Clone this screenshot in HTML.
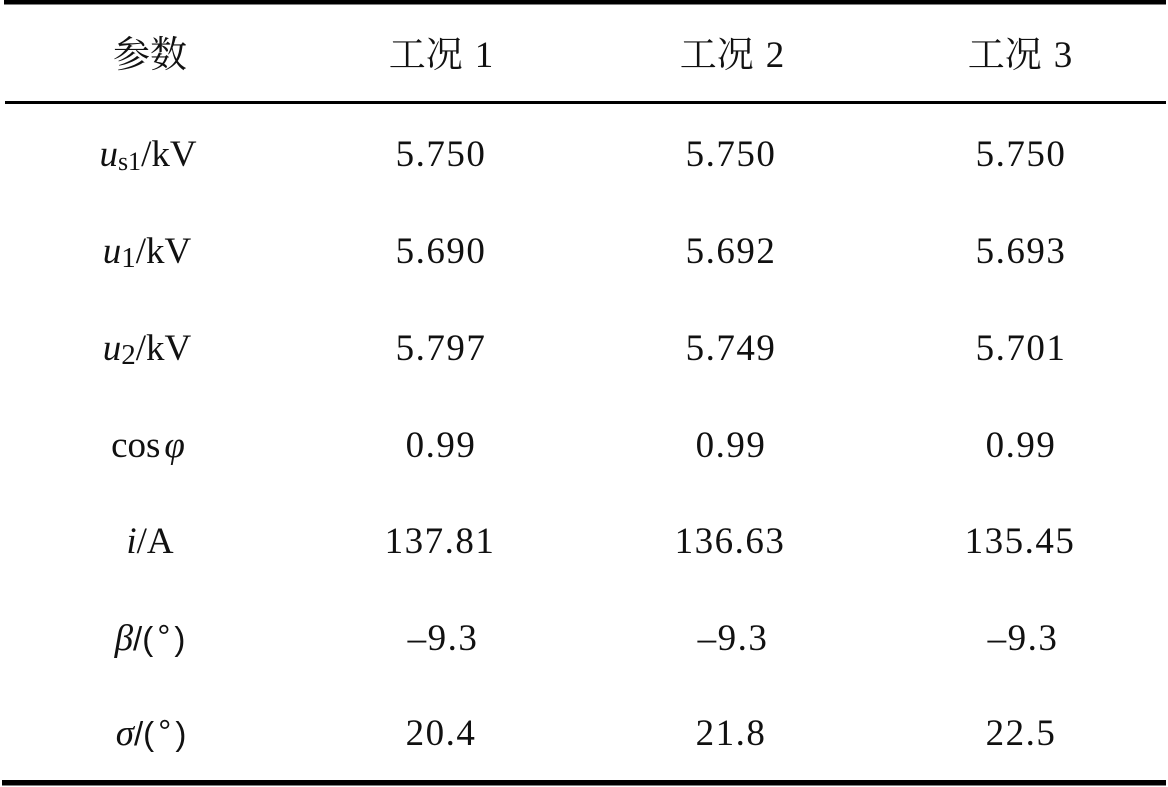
<!DOCTYPE html>
<html>
<head>
<meta charset="utf-8">
<style>
  html, body { margin:0; padding:0; background:#fff; }
  body { width:1168px; height:787px; overflow:hidden; }
  svg { display:block; }
  text { font-family: "Liberation Serif", "Noto Serif CJK SC", serif; font-size:37px; fill:#111; }
  .num { letter-spacing:1.5px; }
  .it { font-style:italic; }
  .sans { font-family: "Liberation Sans", sans-serif; font-size:33px; }
</style>
</head>
<body>
<svg width="1168" height="787" viewBox="0 0 1168 787" xmlns="http://www.w3.org/2000/svg">
  <rect x="4" y="0" width="1162" height="4.5" fill="#000"/>
  <rect x="5" y="101" width="1161" height="3" fill="#000"/>
  <rect x="2" y="780" width="1164" height="5.5" fill="#000"/>

  <!-- header -->
  <text x="150" y="67" text-anchor="middle">参数</text>
  <text x="441" y="67" text-anchor="middle">工况<tspan dx="12">1</tspan></text>
  <text x="732" y="67" text-anchor="middle">工况<tspan dx="12">2</tspan></text>
  <text x="1020" y="67" text-anchor="middle">工况<tspan dx="12">3</tspan></text>

  <!-- row labels -->
  <text x="148" y="166" text-anchor="middle"><tspan class="it">u</tspan><tspan font-size="26" dy="4">s1</tspan><tspan dy="-4">/kV</tspan></text>
  <text x="147" y="263" text-anchor="middle"><tspan class="it">u</tspan><tspan font-size="29" dy="4">1</tspan><tspan dy="-4">/kV</tspan></text>
  <text x="147" y="360" text-anchor="middle"><tspan class="it">u</tspan><tspan font-size="29" dy="4">2</tspan><tspan dy="-4">/kV</tspan></text>
  <text x="148" y="457" text-anchor="middle">cos<tspan class="it" dx="4">φ</tspan></text>
  <text x="150" y="553" text-anchor="middle"><tspan class="it">i</tspan>/A</text>
  <text x="150" y="650" text-anchor="middle"><tspan class="it">β</tspan><tspan class="sans">/(</tspan><tspan class="sans" dx="4" dy="-2" font-size="28">°</tspan><tspan class="sans" dx="4" dy="2">)</tspan></text>
  <text x="151" y="745" text-anchor="middle"><tspan class="it">σ</tspan><tspan class="sans">/(</tspan><tspan class="sans" dx="4" dy="-2" font-size="28">°</tspan><tspan class="sans" dx="4" dy="2">)</tspan></text>

  <g>
    <text class="num" x="441" y="166" text-anchor="middle">5.750</text>
    <text class="num" x="441" y="263" text-anchor="middle">5.690</text>
    <text class="num" x="441" y="360" text-anchor="middle">5.797</text>
    <text class="num" x="441" y="457" text-anchor="middle">0.99</text>
    <text class="num" x="440" y="553" text-anchor="middle">137.81</text>
    <text class="num" x="443" y="650" text-anchor="middle">–9.3</text>
    <text class="num" x="441" y="745" text-anchor="middle">20.4</text>

    <text class="num" x="731" y="166" text-anchor="middle">5.750</text>
    <text class="num" x="731" y="263" text-anchor="middle">5.692</text>
    <text class="num" x="731" y="360" text-anchor="middle">5.749</text>
    <text class="num" x="731" y="457" text-anchor="middle">0.99</text>
    <text class="num" x="730" y="553" text-anchor="middle">136.63</text>
    <text class="num" x="733" y="650" text-anchor="middle">–9.3</text>
    <text class="num" x="731" y="745" text-anchor="middle">21.8</text>

    <text class="num" x="1021" y="166" text-anchor="middle">5.750</text>
    <text class="num" x="1021" y="263" text-anchor="middle">5.693</text>
    <text class="num" x="1021" y="360" text-anchor="middle">5.701</text>
    <text class="num" x="1021" y="457" text-anchor="middle">0.99</text>
    <text class="num" x="1020" y="553" text-anchor="middle">135.45</text>
    <text class="num" x="1023" y="650" text-anchor="middle">–9.3</text>
    <text class="num" x="1021" y="745" text-anchor="middle">22.5</text>
  </g>
</svg>
</body>
</html>
